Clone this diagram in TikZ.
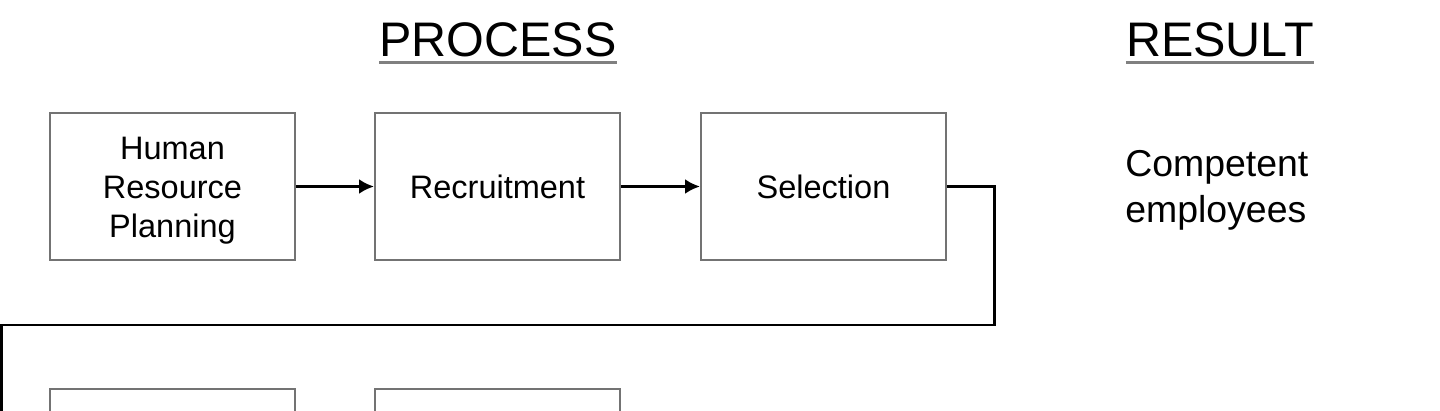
\documentclass[tikz,border=0pt]{standalone}
\usepackage{fontspec}
\setmainfont{Liberation Sans}
\usetikzlibrary{arrows.meta}
\tikzset{
  stepbox/.style={draw=black!55, line width=1.1pt, minimum width=245*0.02cm, minimum height=147*0.02cm,
    inner sep=0pt, align=center, font=\fontsize{18.5}{22.2}\selectfont},
  flow/.style={line width=1.7pt, black},
  heading/.style={anchor=base, inner sep=0pt, font=\fontsize{27.6}{33}\selectfont},
  hline/.style={black!50, line width=1.2pt}
}
\begin{document}
\begin{tikzpicture}[>={Latex[length=0.3cm,width=0.3cm]}, x=0.02cm, y=-0.02cm]
\useasboundingbox[fill=white] (0,0) rectangle (1440,411);
% headings
\node[heading] (proc) at (498,57) {PROCESS};
\node[heading] (res) at (1220,57) {RESULT};
\draw[hline] ([yshift=-0.11cm]proc.base west) -- ([yshift=-0.11cm]proc.base east);
\draw[hline] ([yshift=-0.11cm]res.base west) -- ([yshift=-0.11cm]res.base east);
% first row
\node[stepbox] (hrp) at (172.5,186.5) {\raisebox{-0.09cm}[\height][\depth]{\begin{tabular}{@{}c@{}}Human\\Resource\\Planning\end{tabular}}};
\node[stepbox] (recr) at (497.5,186.5) {Recruitment};
\node[stepbox] (sel) at (823.5,186.5) {Selection};
\node[anchor=base west, inner sep=0pt, align=left, font=\fontsize{21.3}{26.2}\selectfont] (comp) at (1125,223) {Competent\\employees};
% second row (cut off)
\node[stepbox] (next1) at (172.5,462.5) {};
\node[stepbox] (next2) at (497.5,462.5) {};
\draw[flow,->] (hrp) -- (recr);
\draw[flow,->] (recr) -- (sel);
\coordinate (bend) at (994,325);
\coordinate (back) at (1.5,325);
\draw[flow,->] (sel.east) -| (bend) -- (back) |- (next1.west);
\end{tikzpicture}
\end{document}
